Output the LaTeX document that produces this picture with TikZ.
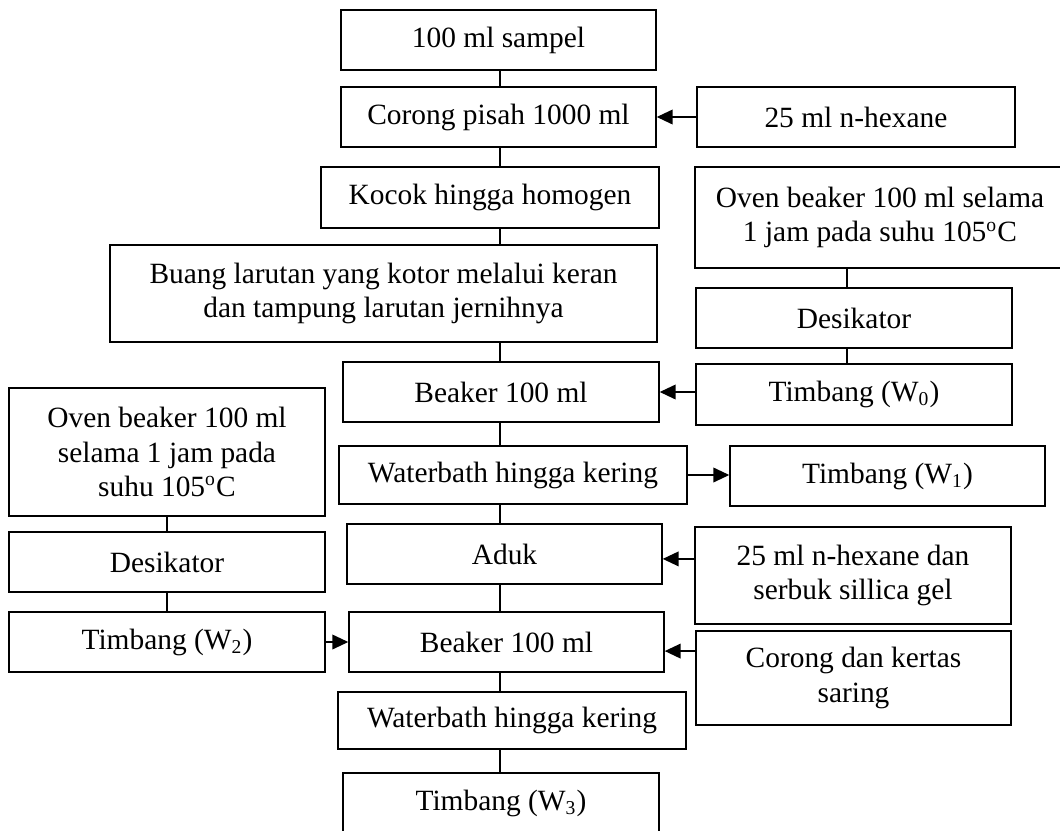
\documentclass[tikz,border=0pt]{standalone}
\usepackage{fontspec}
\setmainfont{Liberation Serif}
\usetikzlibrary{arrows.meta}
\newlength\pxu
\setlength\pxu{0.408pt}
\tikzset{
	stepbox/.style={draw, line width=0.6pt, align=center, inner sep=0pt,
		font=\fontsize{12}{14}\selectfont},
	link/.style={line width=0.6pt},
	feed/.style={line width=0.6pt, -{Triangle[length=6.5pt,width=6pt]}},
}
\begin{document}
\begin{tikzpicture}[x=0.408pt, y=-0.408pt]
	\useasboundingbox (0,0) rectangle (1060,830);
	\coordinate (spine) at (500,0);
	\coordinate (spineR) at (847,0);
	
	% main column
	\node[stepbox, minimum width=315\pxu, minimum height=60\pxu] (sampel) at (498.5,40) {100 ml sampel};
	\node[stepbox, minimum width=315\pxu, minimum height=60\pxu] (corong) at (498.5,117) {Corong pisah 1000 ml};
	\node[stepbox, minimum width=338\pxu, minimum height=61\pxu] (kocok) at (490,197.5) {Kocok hingga homogen};
	\node[stepbox, minimum width=547\pxu, minimum height=97\pxu] (buang) at (383.5,293.5) {Buang larutan yang kotor melalui keran\\dan tampung larutan jernihnya};
	\node[stepbox, minimum width=316\pxu, minimum height=60\pxu] (beakerA) at (501,392) {Beaker 100 ml};
	\node[stepbox, minimum width=348\pxu, minimum height=58\pxu] (bathA) at (513,475) {Waterbath hingga kering};
	\node[stepbox, minimum width=315\pxu, minimum height=60\pxu] (aduk) at (504.5,554) {Aduk};
	\node[stepbox, minimum width=315\pxu, minimum height=60\pxu] (beakerB) at (506.5,642) {Beaker 100 ml};
	\node[stepbox, minimum width=348\pxu, minimum height=57\pxu] (bathB) at (512,720.5) {Waterbath hingga kering};
	\node[stepbox, minimum width=316\pxu, minimum height=60\pxu] (timbangC) at (501,803) {Timbang (W\textsubscript{3})};
	
	% right column
	\node[stepbox, minimum width=318\pxu, minimum height=60\pxu] (hexane) at (856,117) {25 ml n-hexane};
	\node[stepbox, minimum width=370\pxu, minimum height=101\pxu] (ovenR) at (880,217.5) {Oven beaker 100 ml selama\\1 jam pada suhu 105\textsuperscript{o}C};
	\node[stepbox, minimum width=316\pxu, minimum height=60\pxu] (desR) at (854,318) {Desikator};
	\node[stepbox, minimum width=316\pxu, minimum height=61\pxu] (timbangO) at (854,394.5) {Timbang (W\textsubscript{0})};
	\node[stepbox, minimum width=315\pxu, minimum height=60\pxu] (timbangA) at (887.5,476) {Timbang (W\textsubscript{1})};
	\node[stepbox, minimum width=316\pxu, minimum height=97\pxu] (hexsil) at (853,575.5) {25 ml n-hexane dan\\serbuk sillica gel};
	\node[stepbox, minimum width=315\pxu, minimum height=94\pxu] (saring) at (853.5,678) {Corong dan kertas\\saring};
	
	% left column
	\node[stepbox, minimum width=316\pxu, minimum height=128\pxu] (ovenL) at (167,452) {Oven beaker 100 ml\\selama 1 jam pada\\suhu 105\textsuperscript{o}C};
	\node[stepbox, minimum width=316\pxu, minimum height=60\pxu] (desL) at (167,562) {Desikator};
	\node[stepbox, minimum width=316\pxu, minimum height=60\pxu] (timbangB) at (167,642) {Timbang (W\textsubscript{2})};
	
	\draw[link] (sampel.south -| spine) -- (corong.north -| spine);
	\draw[link] (corong.south -| spine) -- (kocok.north -| spine);
	\draw[link] (kocok.south -| spine) -- (buang.north -| spine);
	\draw[link] (buang.south -| spine) -- (beakerA.north -| spine);
	\draw[link] (beakerA.south -| spine) -- (bathA.north -| spine);
	\draw[link] (bathA.south -| spine) -- (aduk.north -| spine);
	\draw[link] (aduk.south -| spine) -- (beakerB.north -| spine);
	\draw[link] (beakerB.south -| spine) -- (bathB.north -| spine);
	\draw[link] (bathB.south -| spine) -- (timbangC.north -| spine);
	
	\draw[link] (ovenR.south -| spineR) -- (desR.north -| spineR);
	\draw[link] (desR.south -| spineR) -- (timbangO.north -| spineR);
	\draw[link] (ovenL) -- (desL);
	\draw[link] (desL) -- (timbangB);
	
	\draw[feed] (hexane.west) -- (hexane.west -| corong.east);
	\draw[feed] (timbangO.west |- beakerA.east) -- (beakerA.east);
	\draw[feed] (bathA.east) -- (bathA.east -| timbangA.west);
	\draw[feed] ([yshift=-2pt]hexsil.west |- aduk.east) -- ([yshift=-2pt]aduk.east);
	\draw[feed] ([yshift=-3.7pt]saring.west |- beakerB.east) -- ([yshift=-3.7pt]beakerB.east);
	\draw[feed] (timbangB.east) -- (timbangB.east -| beakerB.west);
\end{tikzpicture}
\end{document}
